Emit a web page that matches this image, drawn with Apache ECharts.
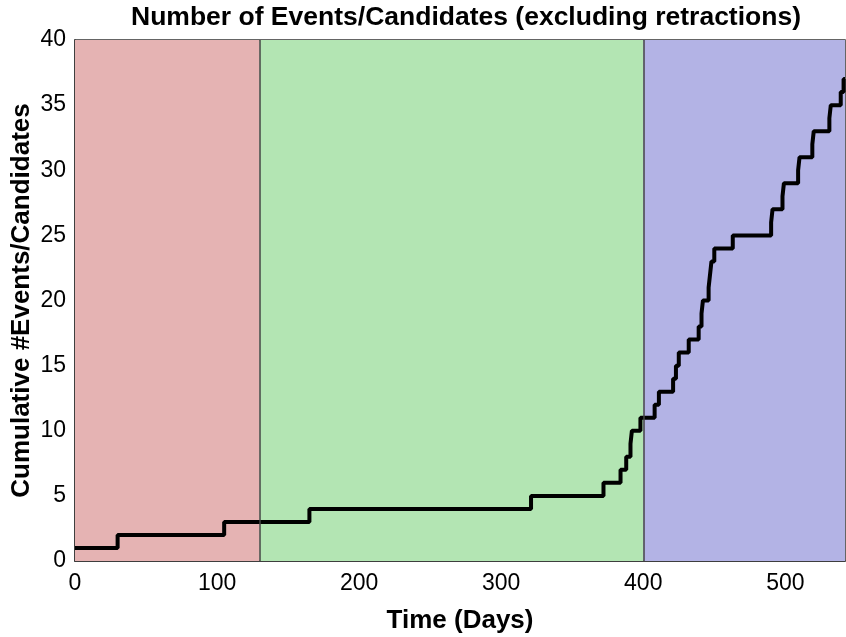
<!DOCTYPE html>
<html>
<head>
<meta charset="utf-8">
<script src="https://cdn.jsdelivr.net/npm/echarts@6/dist/echarts.min.js"></script>
<style>
  html, body { margin: 0; padding: 0; background: #fff; }
  #chart { width: 846px; height: 637px; }
</style>
</head>
<body>
<div id="chart"></div>
<script>
// day on which the running count reaches each value
let eventDays = [0, 30, 105, 165, 321, 372, 384, 388, 391, 392, 398, 408, 411, 421, 423, 425,
    432, 439, 441, 442, 446, 447, 448, 450, 463, 490, 491, 498, 499, 509, 510, 519, 520,
    531, 532, 539, 541, 542];
let cumulativeCounts = [1, 2, 3, 4, 5, 6, 7, 8, 9, 10, 11, 12, 13, 14, 15, 16,
    17, 18, 19, 20, 21, 22, 23, 24, 25, 26, 27, 28, 29, 30, 31, 32, 33,
    34, 35, 36, 37, 37];

// shaded phases (days)
let phaseBounds = [[0, 130], [130, 400], [400, 542]];
let phaseColors = ['#e5b3b3', '#b3e5b3', '#b3b3e5'];
let phaseEdges = [130, 400];

let xTicks = [0, 100, 200, 300, 400, 500];

let lineData = [];
for (let i = 0; i < eventDays.length; i++) {
    lineData.push([eventDays[i], cumulativeCounts[i]]);
}

let areas = [];
for (let i = 0; i < phaseBounds.length; i++) {
    areas.push([
        { xAxis: phaseBounds[i][0], itemStyle: { color: phaseColors[i], opacity: 1 } },
        { xAxis: phaseBounds[i][1] }
    ]);
}

let font = 'Liberation Sans, Arial, Helvetica, sans-serif';

let option = {
    animation: false,
    title: {
        text: 'Number of Events/Candidates (excluding retractions)',
        left: 461,
        top: -1,
        textAlign: 'center',
        textStyle: { fontFamily: font, fontSize: 26.5, fontWeight: 'bold', color: '#000' }
    },
    grid: {
        left: 75, right: 1, top: 40, bottom: 76,
        show: true, borderColor: '#333', borderWidth: 1.5,
        containLabel: false,
        outerBoundsMode: 'none'
    },
    xAxis: {
        type: 'value',
        min: 0,
        max: 542,
        interval: 100,
        name: 'Time (Days)',
        nameLocation: 'middle',
        nameGap: 47,
        nameMoveOverlap: false,
        nameTextStyle: { fontFamily: font, fontSize: 26, fontWeight: 'bold', color: '#000' },
        axisLine: { show: true, lineStyle: { color: '#333', width: 1.5 } },
        axisTick: { show: false },
        splitLine: { show: false },
        axisLabel: {
            fontFamily: font, fontSize: 23, color: '#000', margin: 11,
            showMaxLabel: false,
            formatter: function (v) { return xTicks.indexOf(v) >= 0 ? String(v) : ''; }
        }
    },
    yAxis: {
        type: 'value',
        min: 0,
        max: 40,
        interval: 5,
        name: 'Cumulative #Events/Candidates',
        nameLocation: 'middle',
        nameGap: 40,
        nameMoveOverlap: false,
        nameTextStyle: { fontFamily: font, fontSize: 26, fontWeight: 'bold', color: '#000' },
        axisLine: { show: true, lineStyle: { color: '#333', width: 1.5 } },
        axisTick: { show: false },
        splitLine: { show: false },
        axisLabel: { fontFamily: font, fontSize: 23, color: '#000', margin: 9 }
    },
    series: [
        {
            type: 'line',
            step: 'end',
            data: lineData,
            symbol: 'none',
            lineStyle: { color: '#000', width: 4 },
            markArea: {
                silent: true,
                data: areas
            },
            markLine: {
                silent: true,
                symbol: 'none',
                label: { show: false },
                lineStyle: { color: '#444', width: 1.5, type: 'solid' },
                data: phaseEdges.map(function (d) { return { xAxis: d }; })
            }
        }
    ]
};

let chart = echarts.init(document.getElementById('chart'));
chart.setOption(option);
</script>
</body>
</html>
